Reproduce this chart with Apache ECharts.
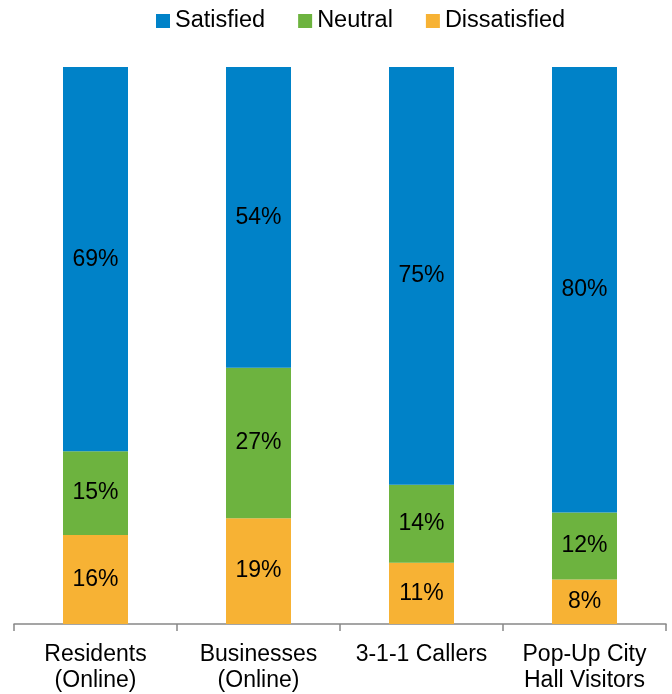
<!DOCTYPE html>
<html>
<head>
<meta charset="utf-8">
<script src="https://cdn.jsdelivr.net/npm/echarts@6/dist/echarts.min.js"></script>
<style>
  html, body { margin: 0; padding: 0; background: #fff; }
  #chart { width: 672px; height: 694px; }
</style>
</head>
<body>
<div id="chart"></div>
<script>
// Survey groups and satisfaction shares (percent)
const categories = ['Residents\n(Online)', 'Businesses\n(Online)', '3-1-1 Callers', 'Pop-Up City\nHall Visitors'];
const dissatisfied = [16, 19, 11, 8];
const neutral = [15, 27, 14, 12];
const satisfied = [69, 54, 75, 80];

const FONT = '"Liberation Sans", Arial, sans-serif';
const colors = { satisfied: '#0082C8', neutral: '#6DB33F', dissatisfied: '#F7B234' };

function seriesFor(name, data, color) {
  return {
    name: name,
    type: 'bar',
    stack: 'total',
    data: data,
    barWidth: 65,
    itemStyle: { color: color },
    label: {
      show: true,
      position: 'inside',
      formatter: '{c}%',
      color: '#000',
      fontSize: 23,
      fontFamily: FONT
    },
    emphasis: { disabled: true }
  };
}

const chart = echarts.init(document.getElementById('chart'), null, { renderer: 'canvas' });
chart.setOption({
  animation: false,
  legend: {
    data: ['Satisfied', 'Neutral', 'Dissatisfied'],
    left: 151,
    top: 4,
    itemWidth: 14,
    itemHeight: 14,
    itemGap: 33,
    icon: 'rect',
    textStyle: { fontSize: 23.5, fontFamily: FONT, color: '#000', lineHeight: 24 }
  },
  grid: { left: 14, right: 6, top: 67, bottom: 70, containLabel: false },
  xAxis: {
    type: 'category',
    data: categories,
    axisLine: { lineStyle: { color: '#888', width: 1.5 } },
    axisTick: { show: true, length: 7, lineStyle: { color: '#888', width: 1.5 } },
    axisLabel: {
      fontSize: 23,
      fontFamily: FONT,
      color: '#000',
      lineHeight: 26,
      margin: 18,
      interval: 0
    }
  },
  yAxis: {
    type: 'value',
    min: 0,
    max: 100,
    show: false
  },
  series: [
    seriesFor('Dissatisfied', dissatisfied, colors.dissatisfied),
    seriesFor('Neutral', neutral, colors.neutral),
    seriesFor('Satisfied', satisfied, colors.satisfied)
  ]
});
</script>
</body>
</html>
